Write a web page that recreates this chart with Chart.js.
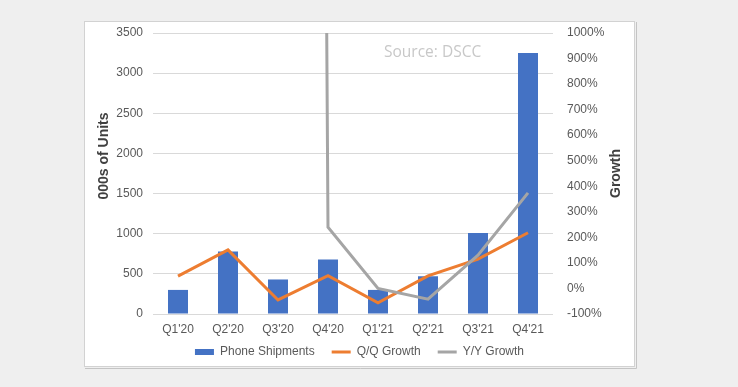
<!DOCTYPE html>
<html>
<head>
<meta charset="utf-8">
<script src="https://cdn.jsdelivr.net/npm/chart.js@4/dist/chart.umd.min.js"></script>
<style>
  html, body { margin: 0; padding: 0; background: #efefef; }
  #wrap { position: relative; width: 738px; height: 387px; }
</style>
</head>
<body>
<div id="wrap"><canvas id="chart" width="738" height="387"></canvas></div>
<script>
// Phone shipments (000s of units) with quarterly and yearly growth, source DSCC
const quarters = ["Q1'20", "Q2'20", "Q3'20", "Q4'20", "Q1'21", "Q2'21", "Q3'21", "Q4'21"];
const shipments = [300, 780, 430, 680, 300, 470, 1010, 3250];
const qqGrowth = [48, 151, -45, 50, -56, 49, 115, 218];
// Q3'20 Y/Y is far off the top of the axis, so only a near-vertical line shows
const yyGrowth = [null, null, 30000, 240, 0, -42, 130, 374];
const unitTicks = [0, 500, 1000, 1500, 2000, 2500, 3000, 3500];
const growthTicks = [-100, 0, 100, 200, 300, 400, 500, 600, 700, 800, 900, 1000];

const leftTitle = '000s of Units';
const rightTitle = 'Growth';
const sourceNote = 'Source: DSCC';

const FONT = '"Liberation Sans", Arial, sans-serif';
const TEXT = '#595959';

// white chart box on the grey page, plus the axis titles and source note
const framePlugin = {
  id: 'frame',
  afterLayout(chart) {
    // legend sits a little closer to the axis labels than chart.js puts it
    if (chart.legend) chart.legend.top -= 7;
  },
  beforeDraw(chart) {
    const ctx = chart.ctx;
    ctx.save();
    ctx.fillStyle = '#efefef';
    ctx.fillRect(0, 0, chart.width, chart.height);
    ctx.fillStyle = '#ffffff';
    ctx.fillRect(84, 21, 551, 346);
    ctx.strokeStyle = '#d2d2d2';
    ctx.lineWidth = 1;
    ctx.strokeRect(84.5, 21.5, 550, 345);
    ctx.strokeStyle = '#c4c4c4';
    ctx.beginPath();
    ctx.moveTo(636.5, 22); ctx.lineTo(636.5, 368.5); ctx.lineTo(85, 368.5);
    ctx.stroke();
    ctx.restore();
  },
  beforeDatasetsDraw(chart) {
    const ctx = chart.ctx;
    ctx.save();
    ctx.font = '15.5px "Open Sans", sans-serif';
    ctx.fillStyle = '#c8c8c8';
    ctx.textAlign = 'left';
    ctx.textBaseline = 'middle';
    ctx.fillText(sourceNote, 384, 53);
    ctx.restore();
  },
  afterDraw(chart) {
    const ctx = chart.ctx;
    const a = chart.chartArea;
    ctx.save();
    ctx.font = 'bold 14px ' + FONT;
    ctx.fillStyle = '#404040';
    ctx.textAlign = 'center';
    ctx.textBaseline = 'middle';
    ctx.translate(104, 156);
    ctx.rotate(-Math.PI / 2);
    ctx.fillText(leftTitle, 0, 0);
    ctx.restore();
    ctx.save();
    ctx.font = 'bold 14px ' + FONT;
    ctx.fillStyle = '#404040';
    ctx.textAlign = 'center';
    ctx.textBaseline = 'middle';
    ctx.translate(616, (a.top + a.bottom) / 2);
    ctx.rotate(-Math.PI / 2);
    ctx.fillText(rightTitle, 0, 0);
    ctx.restore();
  }
};

new Chart(document.getElementById('chart'), {
  data: {
    labels: quarters,
    datasets: [
      {
        type: 'bar', label: 'Phone Shipments', data: shipments, yAxisID: 'y',
        backgroundColor: '#4472c4', borderWidth: 0,
        categoryPercentage: 0.8, barPercentage: 0.5, order: 2, pointStyle: 'rect'
      },
      {
        type: 'line', label: 'Q/Q Growth', data: qqGrowth, yAxisID: 'y1',
        borderColor: '#ed7d31', backgroundColor: '#ed7d31', borderWidth: 3,
        pointRadius: 0, pointBorderWidth: 3, pointStyle: 'line', tension: 0, order: 1
      },
      {
        type: 'line', label: 'Y/Y Growth', data: yyGrowth, yAxisID: 'y1',
        borderColor: '#a5a5a5', backgroundColor: '#a5a5a5', borderWidth: 3,
        pointRadius: 0, pointBorderWidth: 3, pointStyle: 'line', tension: 0, order: 0
      }
    ]
  },
  options: {
    responsive: false,
    animation: false,
    layout: { padding: { left: 84, right: 103, top: 33, bottom: 12 } },
    plugins: {
      tooltip: { enabled: false },
      legend: {
        position: 'bottom',
        labels: {
          usePointStyle: true, pointStyleWidth: 19, boxWidth: 19, boxHeight: 6,
          padding: 17, color: TEXT, font: { family: FONT, size: 12 },
          sort: (a, b) => a.datasetIndex - b.datasetIndex
        }
      }
    },
    scales: {
      x: {
        grid: { display: false, drawTicks: false },
        border: { display: false },
        ticks: { color: TEXT, font: { family: FONT, size: 12 }, padding: 8, maxRotation: 0 },
        afterFit: s => { s.height = 22; }
      },
      y: {
        position: 'left', min: 0, max: 3500,
        afterBuildTicks: s => { s.ticks = unitTicks.map(v => ({ value: v })); },
        grid: { color: '#d9d9d9', drawTicks: false },
        border: { display: false },
        ticks: { color: TEXT, font: { family: FONT, size: 12 }, padding: 10, callback: v => String(v) },
        afterFit: s => { s.width = 69; }
      },
      y1: {
        position: 'right', min: -100, max: 1000,
        afterBuildTicks: s => { s.ticks = growthTicks.map(v => ({ value: v })); },
        grid: { display: false, drawTicks: false },
        border: { display: false },
        ticks: { color: TEXT, font: { family: FONT, size: 12 }, padding: 14, callback: v => v + '%' },
        afterFit: s => { s.width = 82; }
      }
    }
  },
  plugins: [framePlugin]
});
</script>
</body>
</html>
